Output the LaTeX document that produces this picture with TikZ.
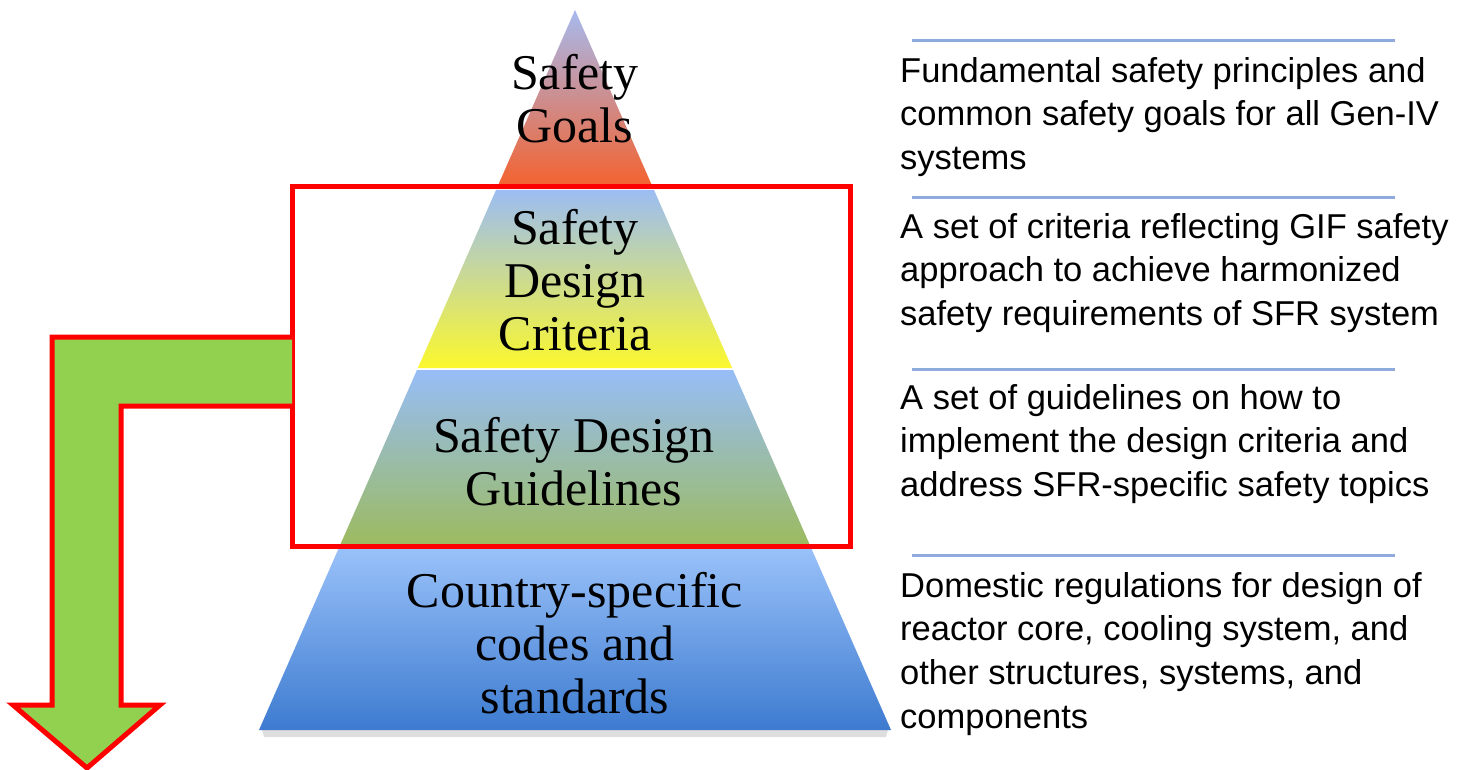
\documentclass[tikz,border=0pt]{standalone}
\usepackage{fontspec}
\setmainfont{Liberation Serif}
\newfontfamily\arialf{Liberation Sans}
\definecolor{arrowgreen}{HTML}{92D050}
\definecolor{rulerblue}{HTML}{8FAADC}
\definecolor{gTop}{HTML}{A6BAEE}
\definecolor{gMid}{HTML}{D99AB2}
\definecolor{gBot}{HTML}{F4622F}
\definecolor{cTop}{HTML}{9CBDF3}
\definecolor{cMid}{HTML}{E4E97E}
\definecolor{cBot}{HTML}{FBF82E}
\definecolor{dTop}{HTML}{97BDF7}
\definecolor{dMid}{HTML}{9BBCAE}
\definecolor{dBot}{HTML}{9CBB5E}
\definecolor{sTop}{HTML}{99C1F9}
\definecolor{sMid}{HTML}{6FA0E6}
\definecolor{sBot}{HTML}{3D7BD0}
\tikzset{
  pyrtext/.style={align=center, inner sep=0pt, font=\fontsize{50}{53}\selectfont},
  desctext/.style={align=left, anchor=north west, inner sep=0pt, font=\arialf\fontsize{34.5}{43.6}\selectfont},
  ruler/.style={draw=rulerblue, line width=3pt},
  redframe/.style={draw=red, line width=5pt},
}
\begin{document}
\begin{tikzpicture}[x=1pt,y=-1pt]
\useasboundingbox (0,0) rectangle (1459,770);
\fill[white] (0,0) rectangle (1459,770);
% shadow under pyramid
\fill[black!25, opacity=0.5] (262,730) -- (888,730) -- (886,737) -- (264,737) -- cycle;
% pyramid layers
\shade[top color=gTop, middle color=gMid, bottom color=gBot] (575,10) -- (652.2,186) -- (497.8,186) -- cycle;
\shade[top color=cTop, middle color=cMid, bottom color=cBot] (496,190) -- (654,190) -- (732.1,368) -- (417.9,368) -- cycle;
\shade[top color=dTop, middle color=dMid, bottom color=dBot] (417,370) -- (733,370) -- (810.3,546) -- (339.7,546) -- cycle;
\shade[top color=sTop, middle color=sMid, bottom color=sBot] (338.4,549) -- (811.6,549) -- (891,730) -- (259,730) -- cycle;
% pyramid texts
\node[pyrtext] (goals) at (575,99) {Safety\\Goals};
\node[pyrtext] (sdc) at (575,280) {Safety\\Design\\Criteria};
\node[pyrtext] (sdg) at (574,462) {Safety Design\\Guidelines};
\node[pyrtext] (csc) at (575,643) {Country-specific\\codes and\\standards};
% red frame
\draw[redframe] (292,187) rectangle (850,546);
% green arrow
\fill[arrowgreen] (292,337) -- (52,337) -- (52,705) -- (13,705) -- (87,768) -- (160,705) -- (121,705) -- (121,406) -- (292,406) -- cycle;
\draw[draw=red, line width=5pt, line join=miter] (292,337) -- (52,337) -- (52,705) -- (13,705) -- (87,768) -- (160,705) -- (121,705) -- (121,406) -- (292,406);
% rulers
\draw[ruler] (912,41) -- (1395,41);
\draw[ruler] (912,198) -- (1395,198);
\draw[ruler] (912,369) -- (1395,369);
\draw[ruler] (912,555) -- (1395,555);
% descriptions
\node[desctext] (d1) at (900,57) {Fundamental safety principles and\\common safety goals for all Gen-IV\\systems};
\node[desctext] (d2) at (900,213) {A set of criteria reflecting GIF safety\\approach to achieve harmonized\\safety requirements of SFR system};
\node[desctext] (d3) at (900,384) {A set of guidelines on how to\\implement the design criteria and\\address SFR-specific safety topics};
\node[desctext] (d4) at (900,572) {Domestic regulations for design of\\reactor core, cooling system, and\\other structures, systems, and\\components};
\end{tikzpicture}
\end{document}
